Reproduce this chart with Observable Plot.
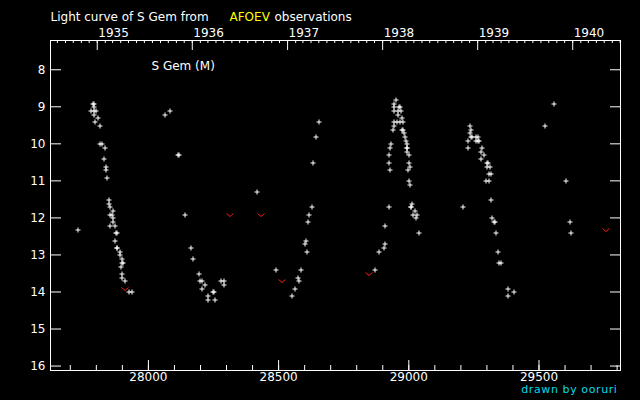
<!DOCTYPE html>
<html><head><meta charset="utf-8">
<script src="https://cdn.jsdelivr.net/npm/d3@7"></script>
<script src="https://cdn.jsdelivr.net/npm/@observablehq/plot@0.6"></script>
<style>html,body{margin:0;padding:0;background:#000;}</style>
</head><body><div id="chart"></div>
<script>
// Julian Date - 2400000, visual magnitude
const obsJD = [
27728,27785,27791,27789,27779,27788,27797,27789,27805,27793,27812,27812,27820,27831,27828,27835,27835,27839,27847,27847,27851,27862,27851,27858,27862,27862,27851,27870,27872,27876,27870,27876,27879,27889,27889,27897,27898,27901,27892,27897,27897,27908,27924,27935,
28062,28081,28112,28116,28139,28162,28169,28192,28196,28204,28215,28204,28227,28227,28246,28250,28254,28277,28288,28288,28415,
28488,28550,28561,28573,28576,28584,28599,28603,28607,28611,28615,28626,28630,28642,28653,
28868,28884,28903,28907,28907,28922,28922,28922,28926,28926,28930,28937,28941,28943,28953,28963,28976,28943,28955,28968,28958,28973,28943,28941,28950,28961,28964,28971,28974,28980,28982,28987,28991,28990,28993,28991,28999,28999,29003,28995,28999,29003,29010,29005,29008,29021,29014,29030,29024,29037,
29206,29225,29225,29233,29237,29233,29238,29242,29256,29264,29256,29264,29268,29279,29275,29287,29275,29299,29303,29298,29310,29306,29314,29294,29306,29314,29318,29324,29328,29333,29341,29344,29352,29379,29402,29379,
29521,29556,29602,29617,29621
];
const obsMag = [
12.3,8.9,8.9,9.0,9.1,9.1,9.1,9.2,9.3,9.4,9.5,10.0,10.0,10.1,10.4,10.6,10.7,10.9,11.5,11.6,11.7,11.8,11.9,11.9,12.0,12.1,12.2,12.2,12.4,12.4,12.6,12.8,12.8,12.9,13.0,13.1,13.2,13.2,13.3,13.5,13.6,13.7,14.0,14.0,
9.2,9.1,10.3,10.3,11.9,12.8,13.1,13.5,13.7,13.7,13.8,13.9,14.1,14.2,14.0,14.0,14.2,13.7,13.7,13.8,11.3,
13.4,14.1,13.9,13.6,13.7,13.4,12.7,12.6,12.9,12.1,11.9,11.7,10.5,9.8,9.4,
13.4,12.9,12.8,12.7,12.2,11.7,10.3,10.5,10.7,10.1,10.0,9.6,9.5,9.4,9.4,9.4,9.4,9.1,9.1,9.1,9.2,9.3,8.9,9.0,8.8,9.0,9.0,9.6,9.6,9.7,9.8,9.9,10.0,10.1,10.1,10.2,10.3,10.5,10.6,10.7,11.0,11.1,11.6,11.7,11.7,11.8,11.9,11.9,12.0,12.4,
11.7,9.9,10.1,9.5,9.6,9.7,9.8,9.8,9.8,9.8,9.9,9.9,9.9,10.1,10.2,10.3,10.4,10.5,10.5,10.6,10.6,10.8,10.8,11.0,11.0,11.5,12.0,12.1,12.1,12.4,12.9,13.2,13.2,13.9,14.0,14.1,
9.5,8.9,11.0,12.1,12.4
];
// "fainter than" observations
const limJD = [27908, 28311, 28430, 28511, 28845, 29755];
const limMag = [13.9, 11.9, 11.9, 13.7, 13.5, 12.3];

const xTicks = [28000, 28500, 29000, 29500];
const xMinor = d3.range(27700, 29801, 100);
const yTicks = [8, 9, 10, 11, 12, 13, 14, 15, 16];
const yearLabels = ["1935", "1936", "1937", "1938", "1939", "1940"];
const yearJD = [27803.5, 28168.5, 28534.5, 28899.5, 29264.5, 29629.5];

const xDomain = [27624, 29813];
const toJD = t => t / 864e5 + 40587.5;
const monthJD = d3.utcMonth.range(new Date(Date.UTC(1934, 7, 1)), new Date(Date.UTC(1940, 8, 1)))
  .map(toJD).filter(j => j > xDomain[0] && j < xDomain[1]);

const obs = obsJD.map((j, i) => ({jd: j, mag: obsMag[i]}));
const lim = limJD.map((j, i) => ({jd: j, mag: limMag[i]}));
const years = yearJD.map((j, i) => ({jd: j, label: yearLabels[i]}));

const W = 640, H = 400, mL = 50, mR = 20, mT = 40, mB = 30;
const fw = W - mL - mR, fh = H - mT - mB;

const cross = {draw(ctx) { const r = 2; ctx.moveTo(-r, 0); ctx.lineTo(r + 1, 0); ctx.moveTo(0.5, -r - 0.5); ctx.lineTo(0.5, r + 0.5); }};
const vee = {draw(ctx) { ctx.moveTo(-3, -1.5); ctx.lineTo(0.5, 1.5); ctx.lineTo(4, -1.5); }};

const chart = Plot.plot({
  width: W, height: H,
  marginLeft: mL, marginRight: mR, marginTop: mT, marginBottom: mB,
  style: {background: "#000", color: "#fff", fontFamily: "DejaVu Sans", fontSize: "12px"},
  x: {domain: xDomain, axis: null},
  y: {domain: [7.21, 16.12], reverse: true, axis: null},
  marks: [
    Plot.frame({stroke: "#fff"}),
    Plot.axisX({ticks: xTicks, tickSize: 0, tickPadding: 2, tickFormat: "d", label: null, fill: "#fff", fontSize: 12}),
    Plot.axisY({ticks: yTicks, tickSize: 0, tickPadding: 5, tickFormat: "d", label: null, fill: "#fff", fontSize: 12}),
    Plot.tickX(xTicks, {x: d => d, stroke: "#fff", insetTop: fh - 10}),
    Plot.tickX(xMinor, {x: d => d, stroke: "#fff", insetTop: fh - 5}),
    Plot.tickX(yearJD, {x: d => d, stroke: "#fff", insetBottom: fh - 10}),
    Plot.tickX(monthJD, {x: d => d, stroke: "#fff", insetBottom: fh - 3}),
    Plot.tickY(yTicks, {y: d => d, stroke: "#fff", insetRight: fw - 11}),
    Plot.tickY(yTicks, {y: d => d, stroke: "#fff", insetLeft: fw - 10}),
    Plot.text(years, {x: "jd", text: "label", frameAnchor: "top", dy: -12, dx: 1, textAnchor: "start", fill: "#fff", fontSize: 12}),
    Plot.text(["Light curve of S Gem from"], {text: d => d, frameAnchor: "top-left", dy: -28, dx: 0, textAnchor: "start", fill: "#fff", fontSize: 12}),
    Plot.text(["AFOEV"], {text: d => d, frameAnchor: "top-left", dy: -28, dx: 179, textAnchor: "start", fill: "#ffff00", fontSize: 12}),
    Plot.text(["observations"], {text: d => d, frameAnchor: "top-left", dy: -28, dx: 224, textAnchor: "start", fill: "#fff", fontSize: 12}),
    Plot.text(["S Gem (M)"], {text: d => d, frameAnchor: "top-left", dy: 20.7, dx: 101, textAnchor: "start", fill: "#fff", fontSize: 12}),
    Plot.text(["drawn by ooruri"], {text: d => d, frameAnchor: "bottom-right", dy: 22, dx: -3, textAnchor: "end", fill: "#00dcea", fontSize: 11, className: "credit"}),
    Plot.dot(obs, {x: "jd", y: "mag", symbol: cross, r: 2, fill: "none", stroke: "#fff", strokeWidth: 1, className: "obs"}),
    Plot.dot(lim, {x: "jd", y: "mag", symbol: vee, r: 2, fill: "none", stroke: "#ff1a1a", strokeWidth: 1, className: "lim"})
  ]
});
// snap symbol positions to whole pixels for crisp rendering
d3.select(chart).selectAll(".obs path, .lim path").attr("transform", function() {
  const m = /translate\(([-\d.e]+),\s*([-\d.e]+)\)/.exec(this.getAttribute("transform") || "");
  if (!m) return this.getAttribute("transform");
  return `translate(${Math.round(+m[1])},${Math.round(+m[2]) + 0.5})`;
});
d3.select(chart).selectAll(".credit text").style("letter-spacing", "0.6px");
document.getElementById("chart").append(chart);
</script>
</body></html>
